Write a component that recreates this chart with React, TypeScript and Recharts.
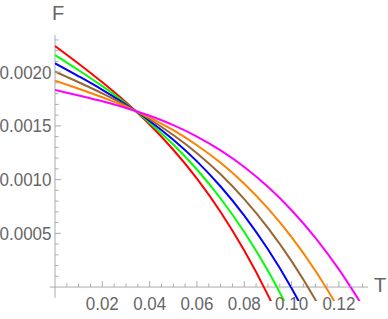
import React from "react";
import { LineChart, Line, XAxis, YAxis, ReferenceLine } from "recharts";

// temperature grid (T) shared by all curves
const T_VALUES = [0, 0.01, 0.02, 0.03, 0.04, 0.05, 0.06, 0.07, 0.08, 0.09, 0.1, 0.11, 0.12, 0.13];

// free energy F, one array per curve
const RED_F = [0.002244, 0.002079, 0.001906, 0.00172, 0.001513, 0.001278, 0.001009, 0.000699, 0.000339, -0.000075, -0.000551];
const GREEN_F = [0.00216, 0.002018, 0.00187, 0.001709, 0.00153, 0.001327, 0.001094, 0.000824, 0.000512, 0.000151, -0.000264];
const BLUE_F = [0.002083, 0.001962, 0.001836, 0.001699, 0.001546, 0.001371, 0.00117, 0.000936, 0.000665, 0.000351, -0.000011, -0.000428];
const BROWN_F = [0.002005, 0.001906, 0.001802, 0.001689, 0.001562, 0.001415, 0.001246, 0.001049, 0.000818, 0.000551, 0.000241, -0.000116, -0.000524];
const ORANGE_F = [0.001921, 0.001846, 0.001766, 0.001679, 0.001577, 0.00146, 0.00132, 0.001156, 0.000961, 0.000732, 0.000465, 0.000154, -0.000203];
const MAGENTA_F = [0.001834, 0.001783, 0.001729, 0.001667, 0.001594, 0.001507, 0.001401, 0.001272, 0.001118, 0.000933, 0.000715, 0.00046, 0.000164, -0.000176];

const X_LABELS = [0.02, 0.04, 0.06, 0.08, 0.1, 0.12];
const Y_LABELS = [0.0005, 0.001, 0.0015, 0.002];

const X_TICKS = Array.from({ length: 26 }, (_, i) => +((i + 1) * 0.005).toFixed(3));
const Y_TICKS = Array.from({ length: 23 }, (_, i) => +((i + 1) * 0.0001).toFixed(4));

const series = [
  { name: "red", color: "#ff0000", values: RED_F },
  { name: "green", color: "#00ff00", values: GREEN_F },
  { name: "blue", color: "#0000ff", values: BLUE_F },
  { name: "brown", color: "#996633", values: BROWN_F },
  { name: "orange", color: "#ff8000", values: ORANGE_F },
  { name: "magenta", color: "#ff00ff", values: MAGENTA_F },
];

const AXIS = "#ababab";
const TEXT = "#666666";
const FONT = "'Liberation Sans', Arial, sans-serif";
const ZERO_OFFSET = 14; // px from plot bottom up to F = 0

const isMajor = (v: number, list: number[]) => list.some((m) => Math.abs(m - v) < 1e-9);

const XTick = (props: any) => {
  const { x, y, payload } = props;
  const major = isMajor(payload.value, X_LABELS);
  const y0 = y - ZERO_OFFSET;
  return (
    <g>
      <line x1={x} x2={x} y1={y0} y2={y0 - (major ? 6 : 3.5)} stroke={AXIS} strokeWidth={1} />
      {major && (
        <text
          x={x}
          y={y + 9}
          textAnchor="middle"
          fill={TEXT}
          fontSize={18}
          fontFamily={FONT}
          textLength={33}
          lengthAdjust="spacingAndGlyphs"
        >
          {payload.value.toFixed(2)}
        </text>
      )}
    </g>
  );
};

const YTick = (props: any) => {
  const { x, y, payload } = props;
  const major = isMajor(payload.value, Y_LABELS);
  return (
    <g>
      <line x1={x} x2={x + (major ? 6 : 3.5)} y1={y} y2={y} stroke={AXIS} strokeWidth={1} />
      {major && (
        <text
          x={x - 3.5}
          y={y}
          dy="0.36em"
          textAnchor="end"
          fill={TEXT}
          fontSize={18}
          fontFamily={FONT}
          textLength={52}
          lengthAdjust="spacingAndGlyphs"
        >
          {payload.value.toFixed(4)}
        </text>
      )}
    </g>
  );
};

const App = () => {
  return (
    <div style={{ position: "absolute", left: 0, top: 0, width: 388, height: 319 }}>
      <LineChart width={388} height={319} margin={{ top: 35, right: 20, left: 0, bottom: 0 }}>
        <XAxis
          dataKey="T"
          type="number"
          domain={[0, 0.1323]}
          allowDataOverflow
          ticks={X_TICKS}
          interval={0}
          height={18}
          axisLine={false}
          tickLine={false}
          tickSize={0}
          tickMargin={0}
          tick={<XTick />}
        />
        <YAxis
          type="number"
          domain={[-0.00013, 0.002346]}
          allowDataOverflow
          ticks={Y_TICKS}
          interval={0}
          width={55}
          axisLine={false}
          tickLine={false}
          tickSize={0}
          tickMargin={0}
          tick={<YTick />}
        />
        <ReferenceLine
          segment={[{ x: -0.0022, y: 0 }, { x: 0.1323, y: 0 }]}
          stroke={AXIS}
          strokeWidth={1}
          ifOverflow="visible"
        />
        <ReferenceLine
          segment={[{ x: 0, y: -0.0001 }, { x: 0, y: 0.002346 }]}
          stroke={AXIS}
          strokeWidth={1}
          ifOverflow="visible"
        />
        {series.map((s) => (
          <Line
            key={s.name}
            data={s.values.map((f, i) => ({ T: T_VALUES[i], F: f }))}
            dataKey="F"
            type="monotone"
            stroke={s.color}
            strokeWidth={2}
            dot={false}
            activeDot={false}
            isAnimationActive={false}
          />
        ))}
      </LineChart>
      <span style={{ position: "absolute", left: 52, top: 2, fontSize: 20, color: TEXT, fontFamily: FONT }}>F</span>
      <span style={{ position: "absolute", left: 374, top: 274, fontSize: 20, color: TEXT, fontFamily: FONT }}>T</span>
    </div>
  );
};

export default App;
